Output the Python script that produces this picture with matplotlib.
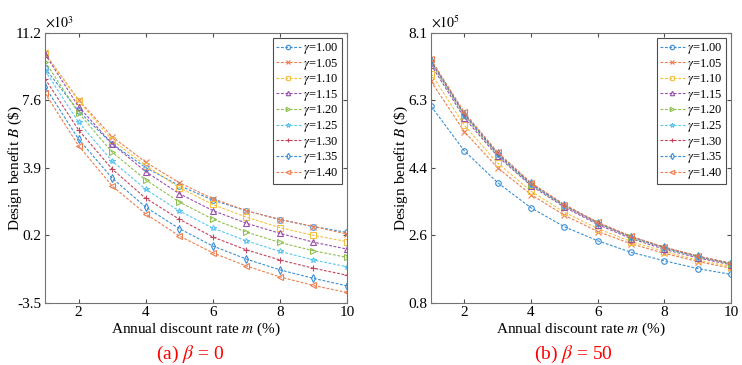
import numpy as np
import matplotlib
matplotlib.use("Agg")
import matplotlib.pyplot as plt

plt.rcParams['font.family'] = ['Liberation Serif', 'DejaVu Serif']
plt.rcParams['mathtext.fontset'] = 'stix'

m = [1, 2, 3, 4, 5, 6, 7, 8, 9, 10]
gammas = ['1.00', '1.05', '1.10', '1.15', '1.20', '1.25', '1.30', '1.35', '1.40']

# beta = 0, values in 10^3 $
b0 = [
    [9.28, 6.95, 5.16, 3.87, 2.89, 2.10, 1.52, 1.04, 0.66, 0.34],
    [10.08, 7.55, 5.55, 4.16, 3.05, 2.18, 1.52, 1.04, 0.66, 0.25],
    [10.08, 7.50, 5.37, 3.98, 2.78, 1.86, 1.17, 0.60, 0.18, -0.16],
    [10.05, 7.19, 5.16, 3.65, 2.45, 1.53, 0.84, 0.29, -0.19, -0.57],
    [9.64, 6.85, 4.71, 3.20, 2.00, 1.06, 0.36, -0.21, -0.66, -1.02],
    [9.15, 6.34, 4.23, 2.69, 1.51, 0.58, -0.12, -0.69, -1.16, -1.53],
    [8.70, 5.92, 3.79, 2.20, 1.06, 0.09, -0.61, -1.16, -1.61, -1.99],
    [8.28, 5.42, 3.30, 1.72, 0.55, -0.40, -1.11, -1.70, -2.16, -2.57],
    [7.92, 5.06, 2.87, 1.35, 0.15, -0.77, -1.49, -2.08, -2.55, -2.93],
]

# beta = 50, values in 10^5 $
b50 = [
    [6.12, 4.91, 4.05, 3.37, 2.86, 2.48, 2.17, 1.94, 1.73, 1.57],
    [6.79, 5.43, 4.45, 3.73, 3.17, 2.73, 2.40, 2.14, 1.92, 1.74],
    [7.00, 5.60, 4.58, 3.82, 3.25, 2.81, 2.46, 2.19, 1.96, 1.78],
    [7.24, 5.80, 4.76, 3.97, 3.39, 2.92, 2.54, 2.25, 2.02, 1.83],
    [7.30, 5.85, 4.79, 3.99, 3.42, 2.95, 2.57, 2.28, 2.04, 1.85],
    [7.32, 5.88, 4.81, 4.00, 3.43, 2.96, 2.58, 2.29, 2.05, 1.86],
    [7.34, 5.90, 4.83, 4.02, 3.44, 2.97, 2.59, 2.30, 2.06, 1.86],
    [7.36, 5.92, 4.85, 4.03, 3.45, 2.97, 2.59, 2.30, 2.06, 1.87],
    [7.38, 5.95, 4.87, 4.05, 3.46, 2.98, 2.60, 2.31, 2.07, 1.87],
]

colors = ['#3a8fd6', '#ee7d4e', '#f5c144', '#9a4fae', '#8fbf4f',
          '#5cc6f2', '#c4455c', '#3a8fd6', '#ee7d4e']
markers = ['o', 'x', 's', '^', '>', '*', '+', 'd', '<']

fig = plt.figure(figsize=(7.42, 3.65), dpi=100)
ax1 = fig.add_axes([0.0606, 0.170, 0.407, 0.740])
ax2 = fig.add_axes([0.5809, 0.170, 0.4043, 0.740])


def draw(ax, data, ylim, yticks, ylabels, expo, ylab_x):
    for i, g in enumerate(gammas):
        ax.plot(m, data[i], linestyle=(0, (2.5, 1.5)), linewidth=0.8,
                color=colors[i], marker=markers[i], markersize=4,
                markerfacecolor='none', markeredgewidth=0.8,
                label=r'$\gamma$=' + g)
    ax.set_xlim(1, 10)
    ax.set_ylim(*ylim)
    ax.set_xticks([2, 4, 6, 8, 10])
    ax.set_yticks(yticks)
    ax.set_yticklabels(ylabels)
    ax.tick_params(direction='in', top=True, right=True, labelsize=11,
                   color='0.3', length=3, pad=2.5)
    for s in ax.spines.values():
        s.set_color('0.45')
        s.set_linewidth(0.8)
    ax.set_xlabel('Annual discount rate $m$ (%)', fontsize=11, labelpad=1)
    ax.set_ylabel('Design benefit $B$ (\\$)', fontsize=11)
    ax.yaxis.set_label_coords(ylab_x, 0.5)
    ax.text(0.0, 1.01, r'$\times10^{%d}$' % expo, transform=ax.transAxes,
            fontsize=10, va='bottom', ha='left')
    leg = ax.legend(loc='upper right', fontsize=9, handlelength=2.0,
                    handletextpad=0.2, labelspacing=0.05, borderpad=0.25,
                    borderaxespad=0.4, fancybox=False, framealpha=1,
                    markerscale=0.8)
    leg.get_frame().set_edgecolor('0.3')
    leg.get_frame().set_linewidth(0.8)


draw(ax1, b0, (-3.5, 11.2), np.linspace(-3.5, 11.2, 5),
     ['-3.5', '0.2', '3.9', '7.6', '11.2'], 3, -0.068)
draw(ax2, b50, (0.8, 8.1), np.linspace(0.8, 8.1, 5),
     ['0.8', '2.6', '4.4', '6.3', '8.1'], 5, -0.07)

fig.text(190 / 742, 1 - 354 / 365, r'(a) $\beta$ = 0', color='red',
         fontsize=14, ha='center', va='center')
fig.text(573 / 742, 1 - 354 / 365, r'(b) $\beta$ = 50', color='red',
         fontsize=14, ha='center', va='center')

fig.savefig('out.png', dpi=100)
